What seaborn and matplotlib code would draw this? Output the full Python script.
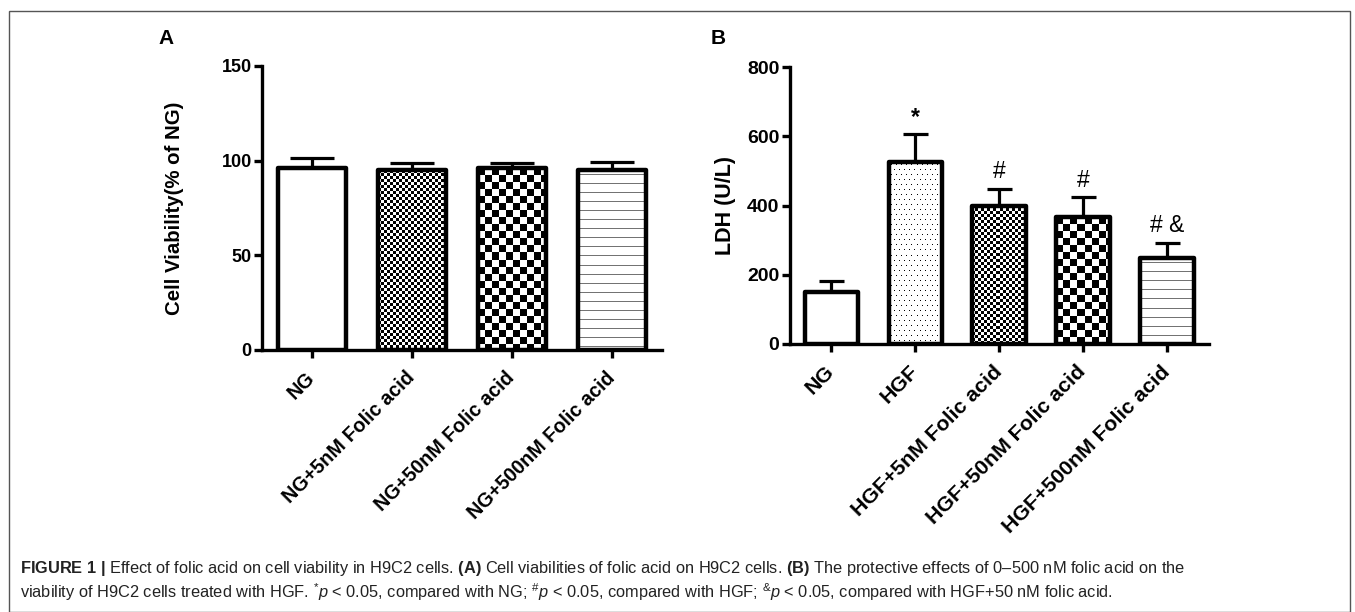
import numpy as np
import pandas as pd
import seaborn as sns
import matplotlib.pyplot as plt
from matplotlib.patches import Rectangle
from matplotlib.transforms import ScaledTranslation

# panel A data
groupsA = ["NG", "NG+5nM Folic acid", "NG+50nM Folic acid", "NG+500nM Folic acid"]
viability = [96, 95, 96, 95]
viabilityErr = [5.3, 4.0, 3.0, 4.5]
texturesA = ["none", "fine", "coarse", "lines"]

# panel B data
groupsB = ["NG", "HGF", "HGF+5nM Folic acid", "HGF+50nM Folic acid", "HGF+500nM Folic acid"]
ldh = [150, 525, 400, 366, 248]
ldhErr = [32, 81, 48, 58, 45]
marksB = ["", "*", "#", "#", "# &"]
texturesB = ["none", "dots", "fine", "coarse", "lines"]

sns.set_style("ticks")
plt.rcParams['font.family'] = ['Liberation Sans', 'DejaVu Sans']
plt.rcParams['mathtext.fontset'] = 'custom'
plt.rcParams['mathtext.rm'] = 'Liberation Sans'
plt.rcParams['mathtext.it'] = 'Liberation Sans:italic'
plt.rcParams['mathtext.bf'] = 'Liberation Sans:bold'
for k in ['text.color', 'axes.labelcolor', 'xtick.color', 'ytick.color', 'axes.edgecolor']:
  plt.rcParams[k] = 'black'

W, H = 1355, 612
fig = plt.figure(figsize=(W / 100, H / 100), dpi=100)


def texture(kind, w, h):
  yy, xx = np.mgrid[0:h, 0:w]
  img = np.ones((h, w))
  if kind == "fine":
    img = ((xx // 3 + yy // 3) % 2).astype(float)
  elif kind == "coarse":
    img = ((xx // 7 + yy // 7) % 2).astype(float)
  elif kind == "lines":
    img[(yy % 9) == 4] = 0.45
  elif kind == "dots":
    row = yy // 5
    shift = (row % 2) * 2.5
    img[((yy % 5) == 2) & (((xx + shift).astype(int) % 5) == 2)] = 0.0
  return img


def drawPanel(ax, groups, vals, errs, textures, width, capsize, ysize, xsize):
  df = pd.DataFrame({"group": groups, "value": vals})
  sns.barplot(data=df, x="group", y="value", color="white", edgecolor="black",
              linewidth=0, width=width, errorbar=None, ax=ax, zorder=2)
  pos = np.arange(len(groups))
  ax.errorbar(pos, vals, yerr=[np.zeros(len(errs)), errs], fmt="none", ecolor="black",
              elinewidth=2.3, capsize=capsize, capthick=2.3, zorder=1)
  bars = list(ax.patches)
  for bar, kind in zip(bars, textures):
    x0, y0 = bar.get_x(), bar.get_y()
    bw, bh = bar.get_width(), bar.get_height()
    p0 = ax.transData.transform((x0, y0))
    p1 = ax.transData.transform((x0 + bw, y0 + bh))
    pw, ph = int(abs(p1[0] - p0[0])), int(abs(p1[1] - p0[1]))
    if kind != "none":
      im = ax.imshow(texture(kind, pw, ph), cmap="gray", vmin=0, vmax=1,
                     extent=(x0, x0 + bw, y0, y0 + bh), origin="upper",
                     aspect="auto", interpolation="nearest", zorder=2.5)
      im.set_clip_path(bar)
    ax.add_patch(Rectangle((x0, y0), bw, bh, fill=False, edgecolor="black",
                           linewidth=3.2, zorder=3, joinstyle="round"))
  sns.despine(ax=ax)
  for s in ["left", "bottom"]:
    ax.spines[s].set_linewidth(2.4)
  ax.tick_params(width=2.4, length=5.8, labelsize=ysize)
  ax.tick_params(axis="y", pad=1.5)
  for lab in ax.get_yticklabels():
    lab.set_fontweight("bold")
  ax.set_xticks(pos)
  ax.set_xticklabels(groups, rotation=45, ha="right", rotation_mode="anchor",
                     fontweight="bold", fontsize=xsize)
  shift = ScaledTranslation(-7 / 100, -5 / 100, fig.dpi_scale_trans)
  for lab in ax.get_xticklabels():
    lab.set_transform(lab.get_transform() + shift)
  ax.set_xlabel("")


# panel A
axA = fig.add_axes([262 / W, 1 - 350 / H, 400 / W, 284 / H])
axA.set_xlim(-0.663, 3.42)
axA.set_ylim(0, 150)
axA.set_yticks([0, 50, 100, 150])
drawPanel(axA, groupsA, viability, viabilityErr, texturesA, 0.68, 16, 13, 14.2)
axA.set_ylabel("Cell Viability(% of NG)", fontsize=14.7, fontweight="bold", labelpad=27)
axA.set_ylim(0, 150)

# panel B
axB = fig.add_axes([789.5 / W, 1 - 344 / H, 419.5 / W, 277 / H])
axB.set_xlim(-0.70, 4.64)
axB.set_ylim(0, 800)
axB.set_yticks([0, 200, 400, 600, 800])
drawPanel(axB, groupsB, ldh, ldhErr, texturesB, 0.64, 9, 14, 15.3)
axB.set_ylabel("LDH (U/L)", fontsize=15.5, fontweight="bold", labelpad=8)
axB.set_ylim(0, 800)
for i, m in enumerate(marksB):
  if m:
    axB.annotate(m, (i, ldh[i] + ldhErr[i]), xytext=(0, 4), textcoords="offset points",
                 ha="center", va="bottom", fontsize=16.5,
                 fontweight="bold" if m == "*" else "normal")

fig.text(166 / W, 1 - 38 / H, "A", fontsize=15, fontweight="bold", ha="center", va="center")
fig.text(718 / W, 1 - 38 / H, "B", fontsize=15, fontweight="bold", ha="center", va="center")

# figure frame
fig.add_artist(Rectangle((9 / W, 0.5 / H), 1341 / W, 1 - 11.5 / H, transform=fig.transFigure,
                         fill=False, edgecolor="#555555", linewidth=1.0))

cap1 = (r"$\bf{FIGURE\ 1\ |}$ Effect of folic acid on cell viability in H9C2 cells. "
        r"$\bf{(A)}$ Cell viabilities of folic acid on H9C2 cells. "
        r"$\bf{(B)}$ The protective effects of 0–500 nM folic acid on the")
cap2 = (r"viability of H9C2 cells treated with HGF. $^{*}p$ < 0.05, compared with NG; "
        r"$^{\#}p$ < 0.05, compared with HGF; $^{&}p$ < 0.05, compared with HGF+50 nM folic acid.")
fig.text(20 / W, 1 - 568 / H, cap1, fontsize=11.8, ha="left", va="center", color="#222222")
fig.text(20 / W, 1 - 592 / H, cap2, fontsize=11.8, ha="left", va="center", color="#222222")

plt.savefig("out.png", dpi=100)
